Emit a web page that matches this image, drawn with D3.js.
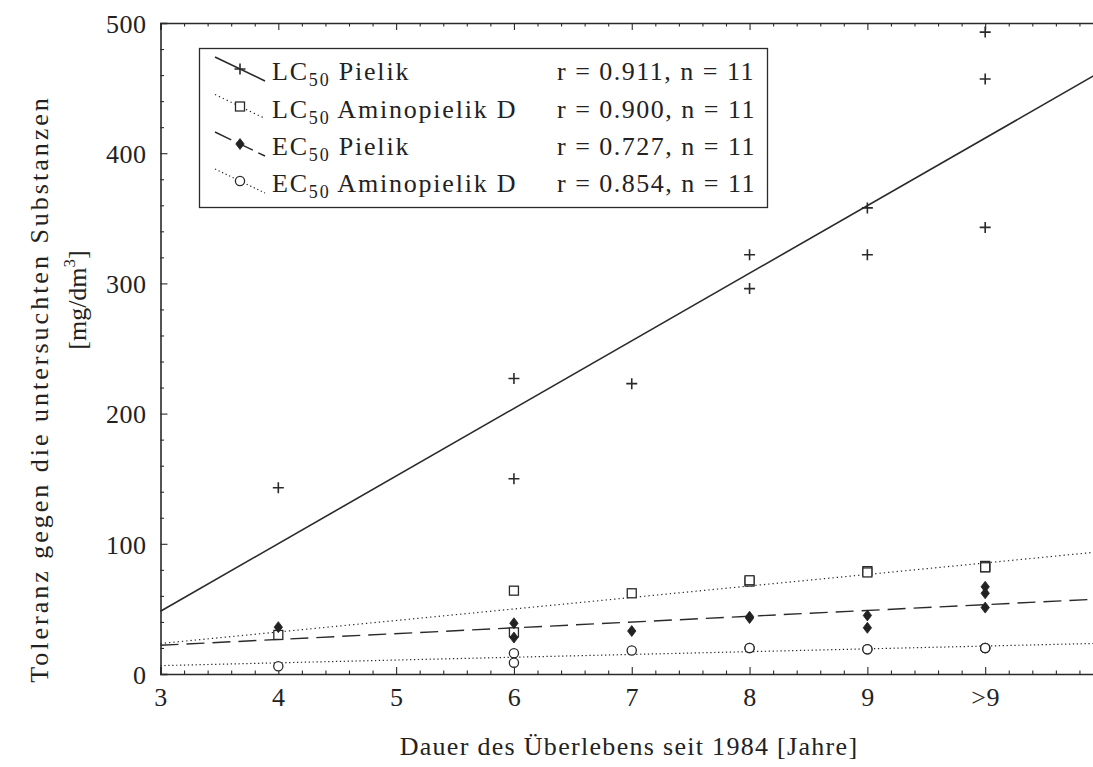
<!DOCTYPE html>
<html><head><meta charset="utf-8">
<script src="https://cdn.jsdelivr.net/npm/d3@7"></script>
<style>
body{margin:0;background:#fff;}
svg{display:block;}
text{font-family:"Liberation Serif","Times New Roman",serif;fill:#222;}
</style>
</head><body><svg id="c" width="1093" height="767"></svg>
<script>
// ---- data ----
const xValues = [4, 6, 6, 7, 8, 8, 9, 9, 10, 10, 10];
const lc50Pielik = [143, 227, 150, 223, 322, 296, 358, 322, 493, 457, 343];
const lc50Amino = [30, 64, 32, 62, 71, 72, 79, 78, 82, 83, 82];
const ec50Pielik = [36, 39, 28, 33, 43, 44, 45, 35.5, 67, 62, 51];
const ec50Amino = [6, 16, 8.7, 18, 20, 20, 19, 19, 20, 20, 20];
const xTickValues = [3, 4, 5, 6, 7, 8, 9, 10];
const xTickLabels = ["3", "4", "5", "6", "7", "8", "9", ">9"];
const yTickValues = [0, 100, 200, 300, 400, 500];
const seriesPrefix = ["LC", "LC", "EC", "EC"];
const seriesSuffix = ["Pielik", "Aminopielik D", "Pielik", "Aminopielik D"];
const rValues = ["0.911", "0.900", "0.727", "0.854"];
const nValues = [11, 11, 11, 11];
const xTitle = "Dauer des Überlebens seit 1984 [Jahre]";
const yTitle1 = "Toleranz gegen die untersuchten Substanzen";

const seriesValues = [lc50Pielik, lc50Amino, ec50Pielik, ec50Amino];
const markers = ["plus", "square", "diamond", "circle"];
const dashes = [null, "1.3,3", "18,8", "1.3,2.6"];
const widths = [1.6, 1.2, 1.4, 1.2];

// ---- layout ----
const svg = d3.select("#c");
const x = d3.scaleLinear().domain([3, 11]).range([160.5, 1103]);
const y = d3.scaleLinear().domain([0, 500]).range([674, 23]);
const ink = "#2a2a2a";

const g = svg.append("g");
const xMinor = d3.range(3, 11.001, 0.2).filter(v => Math.abs(v - Math.round(v)) > 1e-6);
const yMinor = d3.range(0, 500.001, 20).filter(v => v % 100 !== 0);

// bottom axis
const axB = g.append("g").attr("transform", `translate(0,${y(0)})`)
  .call(d3.axisBottom(x).tickValues(xTickValues).tickSize(-7).tickPadding(14)
    .tickFormat((d, i) => xTickLabels[i]));
axB.append("g").attr("class", "minor").call(d3.axisBottom(x).tickValues(xMinor).tickSize(-3.5).tickFormat(""));
// top axis
const axT = g.append("g").attr("transform", `translate(0,${y(500)})`)
  .call(d3.axisTop(x).tickValues(xTickValues).tickSize(-7).tickFormat(""));
axT.append("g").attr("class", "minor").call(d3.axisTop(x).tickValues(xMinor).tickSize(-3.5).tickFormat(""));
// left axis
const axL = g.append("g").attr("transform", `translate(${x(3)},0)`)
  .call(d3.axisLeft(y).tickValues(yTickValues).tickSize(-7).tickPadding(14));
axL.append("g").attr("class", "minor").call(d3.axisLeft(y).tickValues(yMinor).tickSize(-3.5).tickFormat(""));

g.selectAll(".minor .domain").remove();
g.selectAll(".domain").attr("stroke", ink).attr("stroke-width", 1.6);
g.selectAll(".tick line").attr("stroke", ink).attr("stroke-width", 1.1);
g.selectAll(".tick text").attr("font-family", "Liberation Serif").attr("font-size", 26)
  .attr("fill", "#222").style("letter-spacing", "0.5px");
axL.selectAll(".tick text").attr("dy", "0.36em");

// ---- regression lines ----
function fit(xs, ys) {
  const mx = d3.mean(xs), my = d3.mean(ys);
  let sxy = 0, sxx = 0;
  xs.forEach((v, i) => { sxy += (v - mx) * (ys[i] - my); sxx += (v - mx) * (v - mx); });
  const b = sxy / sxx;
  return { a: my - b * mx, b };
}
const plot = svg.append("g");
const lineGen = d3.line().x(d => x(d[0])).y(d => y(d[1]));
seriesValues.forEach((vals, i) => {
  const f = fit(xValues, vals);
  const pts = [3, 11].map(v => [v, f.a + f.b * v]);
  plot.append("path").attr("d", lineGen(pts)).attr("fill", "none")
    .attr("stroke", ink).attr("stroke-width", widths[i])
    .attr("stroke-dasharray", dashes[i]);
});

// ---- markers ----
function drawMarker(sel, type, cx, cy) {
  if (type === "plus") {
    sel.append("path").attr("d", `M${cx-5.5},${cy}H${cx+5.5}M${cx},${cy-5.5}V${cy+5.5}`)
      .attr("stroke", ink).attr("stroke-width", 1.6).attr("fill", "none");
  } else if (type === "square") {
    sel.append("rect").attr("x", cx - 4.5).attr("y", cy - 4.5).attr("width", 9).attr("height", 9)
      .attr("fill", "#fff").attr("stroke", ink).attr("stroke-width", 1.3);
  } else if (type === "diamond") {
    sel.append("path").attr("d", `M${cx},${cy-5.5}L${cx+4.2},${cy}L${cx},${cy+5.5}L${cx-4.2},${cy}Z`)
      .attr("fill", "#222").attr("stroke", "#222").attr("stroke-width", 0.8);
  } else {
    sel.append("circle").attr("cx", cx).attr("cy", cy).attr("r", 4.6)
      .attr("fill", "#fff").attr("stroke", ink).attr("stroke-width", 1.3);
  }
}
[1, 3, 2, 0].forEach(i => {
  seriesValues[i].forEach((v, j) => drawMarker(plot, markers[i], x(xValues[j]), y(v)));
});

// ---- legend ----
const leg = svg.append("g");
leg.append("rect").attr("x", 199.5).attr("y", 48.5).attr("width", 568).attr("height", 159)
  .attr("fill", "#fff").attr("stroke", ink).attr("stroke-width", 1.3);
const rowY = [80, 117.5, 155, 192];
seriesValues.forEach((vals, i) => {
  const by = rowY[i];
  const cy = by - 11;
  leg.append("path").attr("d", `M215,${cy-12}L265,${cy+12}`).attr("fill", "none")
    .attr("stroke", ink).attr("stroke-width", widths[i])
    .attr("stroke-dasharray", dashes[i] ? (i === 2 ? "18,6" : dashes[i]) : null);
  drawMarker(leg, markers[i], 240, cy);
  const t = leg.append("text").attr("x", 272).attr("y", by).attr("font-size", 26)
    .style("letter-spacing", "1.8px");
  t.append("tspan").text(seriesPrefix[i]);
  t.append("tspan").attr("font-size", 18).attr("dy", 6).text("50");
  t.append("tspan").attr("dy", -6).text(" " + seriesSuffix[i]);
  leg.append("text").attr("x", 557).attr("y", by).attr("font-size", 26)
    .style("letter-spacing", "1.5px")
    .text(`r = ${rValues[i]}, n = ${nValues[i]}`);
});

// ---- titles ----
svg.append("text").attr("x", 629).attr("y", 755).attr("text-anchor", "middle")
  .attr("font-size", 26).style("letter-spacing", "1.3px").text(xTitle);
svg.append("text").attr("transform", "translate(48,389) rotate(-90)")
  .attr("text-anchor", "middle").attr("font-size", 26).style("letter-spacing", "3px").text(yTitle1);
const t2 = svg.append("text").attr("transform", "translate(86,300) rotate(-90)")
  .attr("text-anchor", "middle").attr("font-size", 26);
t2.append("tspan").text("[mg/dm");
t2.append("tspan").attr("font-size", 17).attr("dy", -11).text("3");
t2.append("tspan").attr("dy", 11).text("]");
</script>
</body></html>
